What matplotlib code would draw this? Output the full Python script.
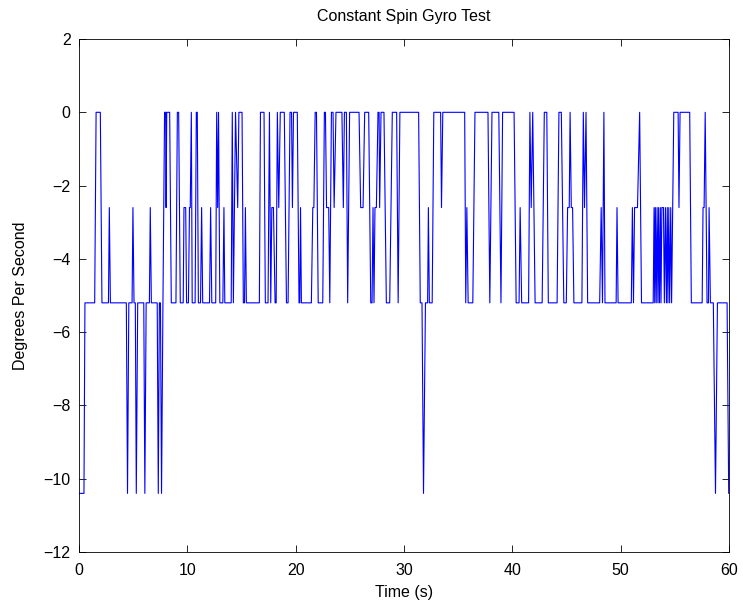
import matplotlib
matplotlib.use("Agg")
import matplotlib.pyplot as plt

# Quantized gyro levels (deg/s)
A, B, C, D = 0.0, -2.6, -5.2, -10.4

# Polyline vertices: (time s, rate deg/s)
time_s = [
    0.00, 0.46, 0.55, 1.45, 1.58, 1.97, 2.12, 2.72, 2.80, 2.90,
    4.37, 4.48, 4.60, 4.90, 4.98, 5.08, 5.20, 5.29, 5.42, 5.98,
    6.08, 6.20, 6.50, 6.58, 6.68, 7.22, 7.32, 7.42, 7.52, 7.62,
    7.75, 7.90, 8.00, 8.04, 8.10, 8.37, 8.52, 8.95, 9.08, 9.20,
    9.35, 9.62, 9.69, 9.85, 9.93, 10.10, 10.20, 10.27, 10.37, 10.45,
    10.72, 10.83, 10.92, 11.02, 11.22, 11.32, 11.42, 12.05, 12.15, 12.26,
    12.62, 12.71, 12.80, 12.88, 13.00, 13.28, 13.38, 13.46, 14.05, 14.15,
    14.25, 14.45, 14.65, 14.76, 15.05, 15.17, 15.28, 15.36, 15.45, 16.65,
    16.75, 17.08, 17.20, 17.45, 17.58, 17.70, 17.80, 17.95, 18.10, 18.20,
    18.31, 18.44, 18.58, 18.95, 19.15, 19.30, 19.48, 19.62, 19.70, 19.80,
    20.15, 20.31, 20.38, 20.45, 20.53, 21.45, 21.58, 21.68, 21.80, 21.92,
    22.08, 22.50, 22.65, 22.75, 22.85, 23.05, 23.15, 23.30, 23.45, 23.55,
    23.72, 24.27, 24.40, 24.50, 24.68, 24.80, 24.98, 25.85, 26.00, 26.22,
    26.37, 26.74, 26.93, 27.05, 27.14, 27.23, 27.32, 27.45, 27.60, 27.70,
    27.75, 27.88, 28.15, 28.37, 28.68, 28.92, 29.32, 29.46, 29.62, 31.35,
    31.50, 31.66, 31.80, 31.98, 32.18, 32.25, 32.34, 32.60, 32.75, 33.38,
    33.46, 33.58, 35.60, 35.70, 35.80, 35.92, 36.35, 36.55, 37.75, 37.92,
    38.12, 38.75, 38.95, 39.10, 40.16, 40.35, 40.62, 40.72, 40.86, 41.50,
    41.62, 41.74, 41.88, 42.10, 42.75, 42.95, 43.18, 43.32, 44.13, 44.30,
    44.52, 44.75, 44.98, 45.10, 45.25, 45.33, 45.44, 45.56, 45.68, 46.42,
    46.55, 46.66, 46.80, 46.95, 48.06, 48.20, 48.32, 48.45, 48.55, 49.58,
    49.66, 49.76, 50.98, 51.08, 51.18, 51.28, 51.55, 51.75, 51.92, 53.00,
    53.08, 53.14, 53.20, 53.28, 53.36, 53.44, 53.50, 53.58, 53.66, 53.72,
    53.80, 53.95, 54.03, 54.13, 54.22, 54.30, 54.36, 54.44, 54.52, 54.62,
    54.70, 54.90, 55.30, 55.38, 55.48, 56.37, 56.52, 57.52, 57.60, 57.70,
    57.80, 57.97, 58.10, 58.16, 58.28, 58.55, 58.75, 58.93, 59.82, 59.97,
    60.00,
]
rate_dps = [
    D, D, C, C, A, A, C, C, B, C,
    C, D, C, C, B, C, C, D, C, C,
    D, C, C, B, C, C, D, C, C, D,
    C, A, A, B, A, A, C, C, A, A,
    C, C, B, B, C, C, B, B, A, C,
    C, A, A, C, C, B, C, C, B, C,
    C, A, B, A, C, C, B, C, C, A,
    C, A, B, A, A, C, C, B, C, C,
    A, A, C, C, A, C, B, B, C, C,
    A, B, A, A, C, C, A, A, B, A,
    A, C, C, B, C, C, B, B, A, A,
    C, C, A, A, B, B, C, A, A, B,
    A, A, B, A, A, C, A, A, B, B,
    A, A, C, C, B, C, B, B, A, A,
    B, A, A, C, C, A, A, C, A, A,
    C, C, D, C, C, B, C, C, A, A,
    B, A, A, C, B, C, C, A, A, C,
    A, A, C, A, A, C, C, B, C, C,
    A, B, A, C, C, A, A, C, C, A,
    A, C, C, B, B, A, B, B, C, C,
    A, B, A, C, C, B, C, A, C, C,
    B, C, C, B, C, B, B, A, C, C,
    B, C, B, C, B, C, B, C, B, C,
    B, B, C, B, C, B, C, B, C, B,
    C, A, A, B, A, A, C, C, B, B,
    A, C, C, B, C, C, D, C, C, D,
    D,
]

x_ticks = [0, 10, 20, 30, 40, 50, 60]
y_ticks = [-12, -10, -8, -6, -4, -2, 0, 2]

plt.rcParams['font.family'] = ['Liberation Sans', 'DejaVu Sans']
plt.rcParams['font.size'] = 11.5

fig = plt.figure(figsize=(7.43, 6.07), dpi=100)
ax = fig.add_axes([0.1063, 0.0906, 0.8749, 0.8451])
ax.plot(time_s, rate_dps, color=(0, 0, 1), linewidth=0.8)

ax.set_xlim(0, 60)
ax.set_ylim(-12, 2)
ax.set_xticks(x_ticks)
ax.set_yticks(y_ticks)
ax.tick_params(direction='in', top=True, right=True, length=5, width=0.6,
               labelsize=11.5)
ax.tick_params(axis='x', pad=8)
ax.tick_params(axis='y', pad=6)
for s in ax.spines.values():
    s.set_linewidth(0.6)

ax.set_title('Constant Spin Gyro Test', fontsize=11.5, pad=13)
ax.set_xlabel('Time (s)', fontsize=11.5, labelpad=5)
ax.set_ylabel('Degrees Per Second', fontsize=11.5, labelpad=11)

fig.savefig('out.png', dpi=100)
